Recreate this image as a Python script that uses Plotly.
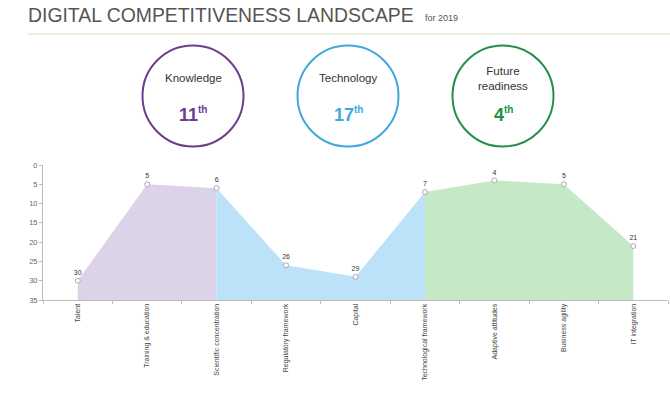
import plotly.graph_objects as go

categories = ["Talent", "Training & education", "Scientific concentration",
              "Regulatory framework", "Capital", "Technological framework",
              "Adaptive attitudes", "Business agility", "IT integration"]
ranks = [30, 5, 6, 26, 29, 7, 4, 5, 21]

# factor groups: (name, index range, fill colour, line colour, overall rank)
groups = [
    ("Knowledge", 0, 3, "rgba(221,211,233,1)", "#6a3d8f", "11"),
    ("Technology", 2, 6, "rgba(187,226,248,1)", "#3fa9dc", "17"),
    ("Future<br>readiness", 5, 9, "rgba(197,232,199,1)", "#23904a", "4"),
]
baseline = 35

fig = go.Figure()
for name, a, b, fillc, linec, rk in groups:
    cats = categories[a:b]
    fig.add_trace(go.Scatter(x=cats, y=[baseline] * len(cats), mode="lines",
                             line=dict(width=0), hoverinfo="skip", showlegend=False))
    fig.add_trace(go.Scatter(x=cats, y=ranks[a:b], mode="lines", fill="tonexty",
                             fillcolor=fillc, line=dict(width=0), showlegend=False))

fig.add_trace(go.Scatter(x=categories, y=ranks, mode="markers+text",
                         text=[str(v) for v in ranks], textposition="top center",
                         textfont=dict(size=7, color="#333"),
                         marker=dict(size=5, color="white", line=dict(color="#aaa", width=1)),
                         showlegend=False))

L, R, T, B = 43, 2, 165, 97
W, H = 670, 397
pw, ph = W - L - R, H - T - B

def px(x):
    return (x - L) / pw

def py(y):
    return (H - B - y) / ph

centers = [193, 348, 503]
rad = 50.5
cy = 96
for (name, a, b, fillc, linec, rk), cx in zip(groups, centers):
    fig.add_shape(type="circle", xref="paper", yref="paper",
                  x0=px(cx - rad), x1=px(cx + rad), y0=py(cy + rad), y1=py(cy - rad),
                  line=dict(color=linec, width=2))
    fig.add_annotation(xref="paper", yref="paper", x=px(cx), y=py(cy - 18),
                       text=name, showarrow=False, font=dict(size=11.5, color="#333"),
                       xanchor="center", yanchor="middle")
    fig.add_annotation(xref="paper", yref="paper", x=px(cx), y=py(cy + 18),
                       text="<b>" + rk + "<sup><span style='font-size:10px'>th</span></sup></b>",
                       showarrow=False,
                       font=dict(size=18, color=linec), xanchor="center", yanchor="middle")

fig.add_annotation(xref="paper", yref="paper", x=px(26), y=py(15),
                   text="DIGITAL COMPETITIVENESS LANDSCAPE", showarrow=False,
                   font=dict(size=19.4, color="#555"), xanchor="left", yanchor="middle")
fig.add_annotation(xref="paper", yref="paper", x=px(423), y=py(18),
                   text="for 2019", showarrow=False,
                   font=dict(size=9, color="#555"), xanchor="left", yanchor="middle")
fig.add_shape(type="line", xref="paper", yref="paper", x0=px(28), x1=px(670),
              y0=py(34), y1=py(34), line=dict(color="#e6ead6", width=1.5))

fig.update_layout(
    width=W, height=H, margin=dict(l=L, r=R, t=T, b=B, autoexpand=False),
    paper_bgcolor="white", plot_bgcolor="white",
    font=dict(family="Liberation Sans, Arial, sans-serif"),
    xaxis=dict(type="category", categoryorder="array", categoryarray=categories,
               range=[-0.5, 8.5], showgrid=False, showline=True, linecolor="#bbb",
               ticks="outside", ticklen=3, tickcolor="#bbb", tickson="boundaries",
               tickangle=-90, tickfont=dict(size=7, color="#444"), automargin=False),
    yaxis=dict(range=[35, 0], tickvals=[0, 5, 10, 15, 20, 25, 30, 35], showgrid=False,
               zeroline=False, showline=True, linecolor="#bbb", ticks="outside",
               ticklen=3, tickcolor="#bbb", tickfont=dict(size=7.5, color="#666"),
               automargin=False),
)

fig.write_html("out.html", config={"displayModeBar": False},
               post_script="document.body.style.margin='0';document.body.style.overflow='hidden';")
